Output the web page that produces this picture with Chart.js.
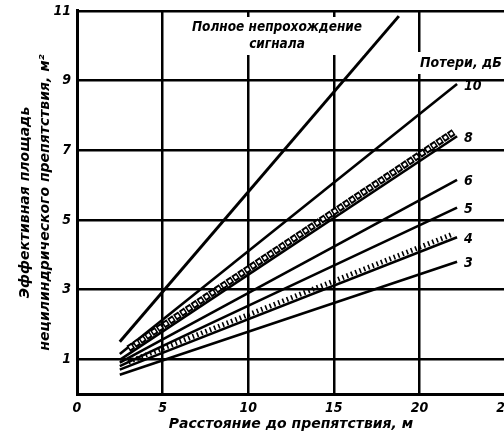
<!DOCTYPE html>
<html><head><meta charset="utf-8">
<script src="https://cdn.jsdelivr.net/npm/chart.js@4/dist/chart.umd.min.js"></script>
<style>
html,body{margin:0;padding:0;background:#fff;overflow:hidden;width:504px;height:441px}
#wrap{position:relative;width:530px;height:441px}
</style></head>
<body><div id="wrap"><canvas id="c" width="530" height="441"></canvas></div>
<script>
// ---- data ----
const xTicks = [0, 5, 10, 15, 20, 25];
const yTicks = [1, 3, 5, 7, 9, 11];
const fullX = [2.5, 18.8];          // "Полное непрохождение сигнала"
const fullY = [1.5, 10.85];
const lossX = [2.5, 22.2];          // loss lines, x at start / end
const loss10 = [1.15, 8.9];
const loss8 = [0.98, 7.4];
const loss6 = [0.9, 6.15];
const loss5 = [0.8, 5.35];
const loss4 = [0.7, 4.5];
const loss3 = [0.55, 3.8];
const bandX = [3.0, 22.0];          // decorated bands next to lines 8 and 4
const ring8 = [1.3, 7.52];
const hatch4 = [0.92, 4.6];
const lossLabels = ['10', '8', '6', '5', '4', '3'];
const titleFull = ['Полное непрохождение', 'сигнала'];
const lossTitle = 'Потери, дБ';
const yTitle = ['Эффективная площадь', 'нецилиндрического препятствия, м²'];
const xTitle = 'Расстояние до препятствия, м';

const FONT = "'DejaVu Sans Condensed', 'Liberation Sans Narrow', sans-serif";
const WIDE = "'DejaVu Sans', sans-serif";
function seg(xs, ys) { return xs.map((v, i) => ({ x: v, y: ys[i] })); }
const lossSeries = [loss10, loss8, loss6, loss5, loss4, loss3];

const datasets = [
  { label: 'full', data: seg(fullX, fullY), borderWidth: 3 },
  { label: 'ring-white', data: seg(bandX, ring8), borderColor: '#fff', borderWidth: 3, borderDash: [3, 4], borderDashOffset: -1.5, order: 0 },
  { label: 'ring-black', data: seg(bandX, ring8), borderWidth: 7, borderDash: [6, 1], order: 1 },
  { label: 'hatch', data: seg(bandX, hatch4), borderWidth: 5, borderDash: [1.6, 3], order: 1 }
];
lossSeries.forEach((s, i) => datasets.push({ label: lossLabels[i], data: seg(lossX, s), borderWidth: 2.6 }));
datasets.forEach(d => {
  if (!d.borderColor) d.borderColor = '#000';
  d.pointRadius = 0; d.fill = false; d.tension = 0;
  if (d.order === undefined) d.order = 2;
});

const annot = {
  id: 'annot',
  afterDatasetsDraw(chart) {
    const { ctx, scales: { x, y } } = chart;
    ctx.save();
    ctx.fillStyle = '#fff';
    ctx.fillRect(188, 17, 176, 38);
    ctx.fillRect(418, 52, 110, 22);
    ctx.fillStyle = '#000';
    ctx.font = "italic bold 13.5px " + FONT;
    ctx.textAlign = 'center';
    ctx.textBaseline = 'middle';
    ctx.fillText(titleFull[0], 277, 27);
    ctx.fillText(titleFull[1], 277, 44);
    ctx.textAlign = 'left';
    ctx.font = "italic bold 14px " + FONT;
    ctx.fillText(lossTitle, 420, 63);
    lossSeries.forEach((s, i) => {
      const px = x.getPixelForValue(lossX[1]);
      const py = y.getPixelForValue(s[1]);
      ctx.fillText(lossLabels[i], px + 7, py + 2);
    });
    ctx.restore();
  }
};

const tickFont = { family: FONT, size: 14, style: 'italic', weight: 'bold' };
const yTickFont = { family: FONT, size: 14, style: 'italic', weight: 'bold', lineHeight: 0.7 };
new Chart(document.getElementById('c'), {
  type: 'line',
  data: { datasets },
  options: {
    responsive: false,
    animation: false,
    events: [],
    layout: { padding: { top: 0, right: 25, left: 0, bottom: 0 } },
    plugins: { legend: { display: false }, tooltip: { enabled: false } },
    scales: {
      x: {
        type: 'linear', min: 0, max: 25,
        afterBuildTicks(s) { s.ticks = xTicks.map(v => ({ value: v })); },
        afterFit(s) { s.height = 47; },
        grid: { color: '#000', lineWidth: 2.5, drawTicks: false },
        border: { color: '#000', width: 3 },
        ticks: { color: '#000', font: tickFont, padding: 6 },
        title: { display: true, text: xTitle, color: '#000', font: { family: WIDE, size: 14, style: 'italic', weight: 'bold' }, padding: { top: 2, bottom: 8 } }
      },
      y: {
        type: 'linear', min: 0, max: 11,
        afterBuildTicks(s) { s.ticks = yTicks.map(v => ({ value: v })); },
        afterFit(s) { s.width = 77; },
        grid: { color: '#000', lineWidth: 2.5, drawTicks: false },
        border: { color: '#000', width: 3 },
        ticks: { color: '#000', font: yTickFont, padding: 6 },
        title: { display: true, text: yTitle, color: '#000', font: { family: WIDE, size: 14, style: 'italic', weight: 'bold', lineHeight: 1.45 }, padding: { top: 15, bottom: 0 } }
      }
    }
  },
  plugins: [annot]
});
</script>
</body></html>
